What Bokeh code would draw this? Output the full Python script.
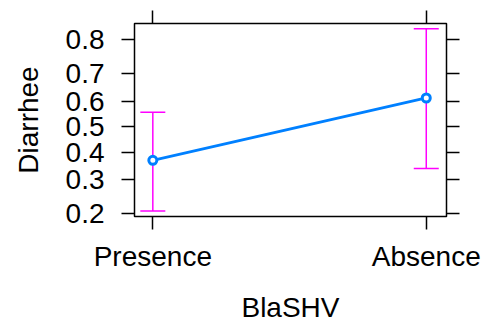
import numpy as np
from bokeh.plotting import figure
from bokeh.models import (Range1d, FixedTicker, LinearAxis, Whisker, TeeHead,
                          ColumnDataSource)
from bokeh.embed import file_html
from bokeh.resources import INLINE

# data
categories = ["Presence", "Absence"]
fit = [0.369, 0.612]
lower = [0.207, 0.339]
upper = [0.557, 0.826]
y_ticks = [0.2, 0.3, 0.4, 0.5, 0.6, 0.7, 0.8]
x_label = "BlaSHV"
y_label = "Diarrhee"

def logit(p):
    p = np.asarray(p, dtype=float)
    return np.log(p / (1 - p))

xs = list(range(len(categories)))
src = ColumnDataSource(dict(x=xs, y=logit(fit), lo=logit(lower), up=logit(upper)))

FONT = "Liberation Sans"
FS = "28px"

p = figure(width=484, height=325, output_backend="svg", toolbar_location=None,
           x_range=Range1d(-0.067, 1.074), y_range=Range1d(-1.43, 1.641),
           min_border_left=134, min_border_right=38, min_border_top=23,
           min_border_bottom=109, x_axis_location=None, y_axis_location=None)
p.xgrid.visible = False
p.ygrid.visible = False
p.outline_line_color = "black"
p.outline_line_width = 1.5
p.background_fill_color = "white"
p.border_fill_color = "white"

ytick_pos = [float(v) for v in logit(y_ticks)]
ylabels = {v: str(t) for v, t in zip(ytick_pos, y_ticks)}
xlabels = {i: c for i, c in enumerate(categories)}

def style(ax):
    ax.axis_line_color = None
    ax.major_tick_in = 0
    ax.major_tick_out = 13
    ax.major_tick_line_color = "black"
    ax.major_tick_line_width = 1.5
    ax.minor_tick_line_color = None
    ax.major_label_text_font = FONT
    ax.major_label_text_font_size = FS
    ax.major_label_text_color = "black"
    ax.axis_label_text_font = FONT
    ax.axis_label_text_font_size = FS
    ax.axis_label_text_font_style = "normal"
    ax.axis_label_text_color = "black"

left = LinearAxis(ticker=FixedTicker(ticks=ytick_pos), major_label_overrides=ylabels,
                  axis_label=y_label)
style(left)
left.major_label_standoff = 17
left.axis_label_standoff = 19
p.add_layout(left, "left")

right = LinearAxis(ticker=FixedTicker(ticks=ytick_pos),
                   major_label_overrides={v: "" for v in ytick_pos})
style(right)
right.major_label_standoff = 0
p.add_layout(right, "right")

bottom = LinearAxis(ticker=FixedTicker(ticks=xs), major_label_overrides=xlabels,
                    axis_label=x_label)
style(bottom)
bottom.major_label_standoff = 11
bottom.axis_label_standoff = 17
p.add_layout(bottom, "below")

top = LinearAxis(ticker=FixedTicker(ticks=xs),
                 major_label_overrides={v: "" for v in xs})
style(top)
top.major_label_standoff = 0
p.add_layout(top, "above")

w = Whisker(base="x", lower="lo", upper="up", source=src,
            line_color="#FF00FF", line_width=1.5,
            upper_head=TeeHead(size=25, line_color="#FF00FF", line_width=1.5),
            lower_head=TeeHead(size=25, line_color="#FF00FF", line_width=1.5))
p.add_layout(w)

p.line("x", "y", source=src, line_color="#0080FF", line_width=2.8)
p.scatter("x", "y", source=src, size=8, line_color="#0080FF", line_width=3,
          fill_color="white")

open("out.html", "w").write(file_html(p, INLINE))
